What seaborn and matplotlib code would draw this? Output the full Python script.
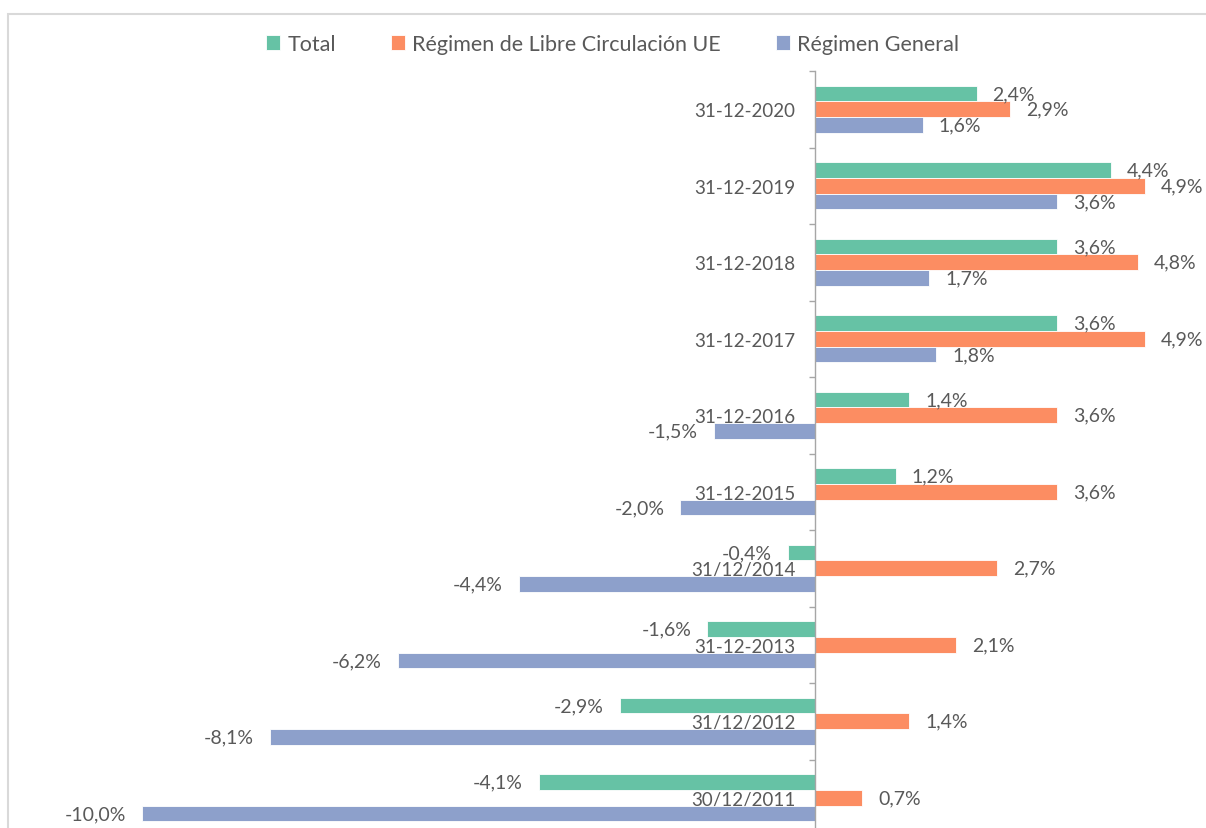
import numpy as np
import pandas as pd
import matplotlib.pyplot as plt
from matplotlib.patches import Rectangle
import seaborn as sns

# --- data (top to bottom, as in the chart) ---
fechas = ["31-12-2020", "31-12-2019", "31-12-2018", "31-12-2017", "31-12-2016",
          "31-12-2015", "31/12/2014", "31-12-2013", "31/12/2012", "30/12/2011"]
total = [2.4, 4.4, 3.6, 3.6, 1.4, 1.2, -0.4, -1.6, -2.9, -4.1]
libre_ue = [2.9, 4.9, 4.8, 4.9, 3.6, 3.6, 2.7, 2.1, 1.4, 0.7]
general = [1.6, 3.6, 1.7, 1.8, -1.5, -2.0, -4.4, -6.2, -8.1, -10.0]

series = ["Total", "Régimen de Libre Circulación UE", "Régimen General"]
colores = ["#66C2A5", "#FC8D62", "#8DA0CB"]
gris = "#595959"

df = pd.DataFrame({"fecha": fechas, series[0]: total, series[1]: libre_ue, series[2]: general})
df = df.melt(id_vars="fecha", var_name="serie", value_name="valor")

sns.set_style("white")
plt.rcParams["font.family"] = ["Lato", "DejaVu Sans"]

fig = plt.figure(figsize=(12.06, 8.29), dpi=100)
ax = fig.add_axes([142 / 1206, -8 / 829, 1056.6 / 1206, 765 / 829])

sns.barplot(data=df, y="fecha", x="valor", hue="serie", order=fechas, hue_order=series,
            palette=colores, orient="h", width=0.615, saturation=1,
            edgecolor="white", linewidth=0.6, ax=ax)

ax.set_xlim(-10, 5.7)
ax.set_ylim(len(fechas) - 0.5, -0.5)

# value labels
for cont, vals in zip(ax.containers, [total, libre_ue, general]):
    etiquetas = [f"{v:.1f}%".replace(".", ",") for v in vals]
    ax.bar_label(cont, labels=etiquetas, padding=11.5, fontsize=14, color=gris)

# axis styling: spine at zero, no x axis
for s in ["top", "right", "bottom"]:
    ax.spines[s].set_visible(False)
ax.spines["left"].set_position(("data", 0))
ax.spines["left"].set_color("#a6a6a6")
ax.spines["left"].set_linewidth(1)
ax.set_xticks([])
ax.set_xlabel("")
ax.set_ylabel("")
ax.set_yticks(np.arange(-0.5, len(fechas), 1), minor=True)
ax.tick_params(axis="y", which="major", length=0, pad=14, labelsize=13.5, labelcolor=gris)
ax.tick_params(axis="y", which="minor", length=4, width=1, color="#a6a6a6", direction="out", left=True)

# legend at top
handles, labels = ax.get_legend_handles_labels()
ax.get_legend().remove()
fig.legend(handles, labels, loc="center", bbox_to_anchor=(0.508, 0.9457), ncol=3, frameon=False,
           fontsize=15.5, labelcolor=gris, handlelength=0.65, handleheight=0.65,
           handletextpad=0.33, columnspacing=2.55)

# light chart border
fig.add_artist(Rectangle((8 / 1206, -0.1), 1.2, 1 - 14.5 / 829 + 0.1, transform=fig.transFigure,
                         fill=False, edgecolor="#d9d9d9", linewidth=1.5))

fig.savefig("out.png", dpi=100)
